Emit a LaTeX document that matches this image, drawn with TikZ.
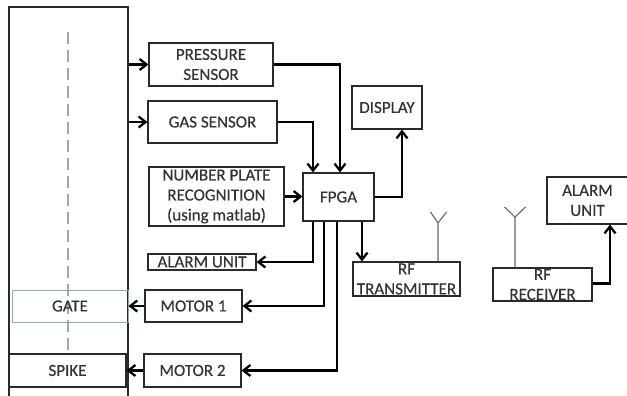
\documentclass[tikz,border=0pt]{standalone}
\usepackage{fontspec}
\setmainfont{Carlito}[FakeBold=0.4]
\usetikzlibrary{arrows.meta,calc}
\definecolor{txt}{HTML}{333333}
\definecolor{edge}{HTML}{2A2A2A}
\definecolor{gateedge}{HTML}{8FA8C0}
\tikzset{
  blk/.style={draw=edge, line width=1.1pt, inner sep=0pt, align=center,
    text=txt, font=\fontsize{17}{20}\selectfont},
  arr/.style={draw=black, line width=2.6pt,
    -{Straight Barb[length=7pt,width=11pt,line width=2.3pt]}},
  ant/.style={draw=gray!80!black, line width=1.1pt},
}
\begin{document}
\begin{tikzpicture}[x=1pt,y=-1pt]
\useasboundingbox (0,0) rectangle (627,396);
% left structure
\node[blk, minimum width=119pt, minimum height=400pt] (road) at (68.5,207) {};
\draw[gray!70, line width=1.6pt, dash pattern=on 12pt off 6pt] (68,32) -- (68,354);
\node[blk, draw=gateedge, line width=0.8pt, minimum width=116pt, minimum height=32pt] (gate) at (70,306) {GATE};
\node[blk, minimum width=117pt, minimum height=33pt] (spike) at (67.5,370.5) {SPIKE};
% blocks
\node[blk, minimum width=124pt, minimum height=43pt] (ps) at (211,64.5) {PRESSURE\\SENSOR};
\node[blk, minimum width=129pt, minimum height=42pt] (gas) at (212.5,122) {GAS SENSOR};
\node[blk, minimum width=135pt, minimum height=59pt] (npr) at (216.5,196.5) {NUMBER PLATE\\RECOGNITION\\(using matlab)};
\node[blk, minimum width=108pt, minimum height=16pt] (al1) at (202,262) {ALARM UNIT};
\node[blk, minimum width=97pt, minimum height=32pt] (m1) at (193.5,306) {MOTOR 1};
\node[blk, minimum width=97pt, minimum height=33pt] (m2) at (192.5,370.5) {MOTOR 2};
\node[blk, minimum width=71pt, minimum height=48pt] (fpga) at (338.5,197) {FPGA};
\node[blk, minimum width=70pt, minimum height=43pt] (disp) at (387,107.5) {DISPLAY};
\node[blk, minimum width=107pt, minimum height=34pt] (rftx) at (406.5,279) {RF\\TRANSMITTER};
\node[blk, minimum width=99pt, minimum height=33pt] (rfrx) at (542.5,284.5) {RF\\RECEIVER};
\node[blk, minimum width=81pt, minimum height=47pt] (al2) at (587.5,200.5) {ALARM\\UNIT};
% antennas
\coordinate (txa) at (438,223);
\coordinate (rxa) at (515,217);
\draw[ant] (rftx.north -| txa) -- (txa) -- (430.5,212);
\draw[ant] (txa) -- (446.5,212);
\draw[ant] (rfrx.north -| rxa) -- (rxa) -- (504.5,207);
\draw[ant] (rxa) -- (525.5,207);
% connectors
\draw[arr] (road.east |- ps.west) -- (ps.west);
\draw[arr] (road.east |- gas.west) -- (gas.west);
\draw[arr] (ps.east) -| ([xshift=1.5pt]fpga.north);
\draw[arr] (gas.east) -| ([xshift=-25.5pt]fpga.north);
\draw[arr] (npr.east) -- (fpga.west |- npr.east);
\draw[arr] (fpga.east) -| ([xshift=15pt]disp.south);
\draw[arr] ([xshift=23.5pt]fpga.south) -- ([xshift=23.5pt]fpga.south |- rftx.north);
\draw[arr] ([xshift=-25.5pt]fpga.south) |- (al1.east);
\draw[arr] ([xshift=-14.5pt]fpga.south) |- (m1.east);
\draw[arr] ([xshift=-1.5pt]fpga.south) |- (m2.east);
\draw[arr] (m1.west) -- (gate.east |- m1.west);
\draw[arr] (m2.west) -- (spike.east |- m2.west);
\draw[arr] ([yshift=1pt]rfrx.east) -| ([xshift=22.5pt]al2.south);
\end{tikzpicture}
\end{document}
